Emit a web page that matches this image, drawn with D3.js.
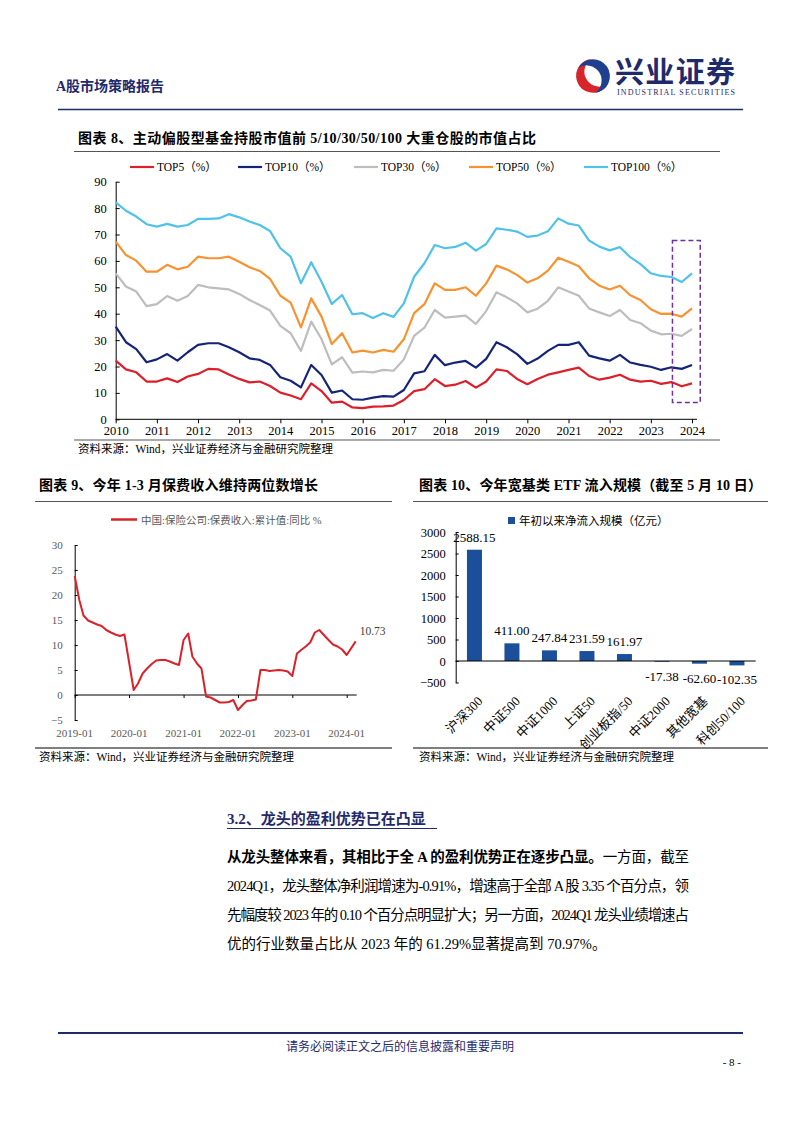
<!DOCTYPE html>
<html><head><meta charset="utf-8">
<script src="https://cdn.jsdelivr.net/npm/d3@7"></script>
<style>
body{margin:0;background:#fff}
svg{display:block}
text{font-family:"Liberation Serif","Noto Sans CJK SC",serif}
</style>
</head><body>
<svg id="c" width="802" height="1133"></svg>
<script>
// ---------- DATA ----------
const yearLabels = ['2010','2011','2012','2013','2014','2015','2016','2017','2018','2019','2020','2021','2022','2023','2024'];
const seriesNames = ['TOP5（%）','TOP10（%）','TOP30（%）','TOP50（%）','TOP100（%）'];
const top5 = [22.2,18.9,17.8,14.3,14.3,15.5,14.1,16.2,17.2,19.1,18.9,17.0,15.3,14.0,14.3,12.6,10.1,9.0,7.6,13.6,10.7,6.3,6.7,4.5,4.2,4.8,4.9,5.2,7.3,10.7,11.4,15.2,12.6,13.1,14.5,12.0,14.3,18.9,18.3,15.3,13.3,15.3,16.9,17.8,18.7,19.6,16.4,15.0,15.8,16.9,15.0,14.3,14.6,13.4,14.1,12.5,13.6];
const top10 = [35.1,29.2,26.6,21.6,22.7,24.7,22.2,25.4,28.2,28.8,28.8,27.3,25.4,23.1,22.5,20.6,15.9,14.6,12.1,20.6,16.8,10.1,10.9,7.6,7.4,8.2,8.8,8.6,11.1,17.4,18.2,24.4,20.5,21.5,22.1,19.6,22.9,29.2,27.3,24.7,21.0,23.0,25.9,28.2,28.2,29.2,24.1,23.1,22.2,24.4,21.5,20.6,19.9,18.7,19.7,19.1,20.6];
const top30 = [55.3,50.3,48.4,42.9,43.6,46.7,44.9,46.7,50.9,50.0,49.6,49.2,47.5,45.2,43.3,41.2,35.4,32.6,25.9,37.0,30.4,20.8,23.5,17.7,18.1,17.8,18.7,18.4,22.7,31.6,34.7,41.4,38.5,38.9,39.3,36.1,41.0,48.1,46.2,43.9,40.5,41.9,44.9,50.0,48.4,46.8,42.0,40.5,39.1,41.4,37.6,36.4,33.6,32.2,32.4,31.6,34.2];
const top50 = [67.3,62.2,60.1,55.9,55.9,58.5,56.8,57.8,61.6,61.0,61.0,61.6,59.7,57.6,56.2,53.2,46.8,44.2,34.8,45.8,38.9,28.5,32.6,25.3,26.0,25.3,26.3,25.6,30.3,40.2,43.6,51.5,49.0,49.0,50.0,46.8,51.5,58.2,56.8,54.7,51.8,53.4,56.3,61.2,59.7,58.0,53.4,50.6,49.2,50.6,47.0,45.2,41.7,39.9,40.0,38.9,42.0];
const top100 = [82.2,79.0,76.8,73.9,73.0,74.0,73.0,73.6,75.9,75.9,76.1,77.7,76.5,74.9,73.6,71.3,64.8,61.6,51.5,59.5,52.1,43.7,47.1,39.8,40.2,38.4,40.2,38.8,43.9,54.0,59.1,66.0,64.8,65.3,66.9,63.9,66.4,72.3,71.8,71.1,69.1,69.6,71.2,76.1,74.1,73.4,67.7,65.4,64.0,65.2,61.4,58.8,55.3,54.3,53.9,52.0,55.3];
const yTicks8 = [0,10,20,30,40,50,60,70,80,90];

const insDates = ['2019-01','2019-02','2019-03','2019-04','2019-05','2019-06','2019-07','2019-08','2019-09','2019-10','2019-11','2019-12',
 '2020-02','2020-03','2020-04','2020-05','2020-06','2020-07','2020-08','2020-09','2020-10','2020-11','2020-12',
 '2021-01','2021-02','2021-03','2021-04','2021-05','2021-06','2021-07','2021-08','2021-09','2021-10','2021-11','2021-12',
 '2022-01','2022-02','2022-03','2022-04','2022-05','2022-06','2022-07','2022-08','2022-09','2022-10','2022-11','2022-12',
 '2023-01','2023-02','2023-03','2023-04','2023-05','2023-06','2023-07','2023-08','2023-09','2023-10','2023-11','2023-12',
 '2024-01','2024-03'];
const insValues = [23.8,19.0,15.9,14.9,14.5,14.1,13.8,13.0,12.5,12.1,11.8,12.1,
 1.0,2.3,4.3,5.3,6.2,6.9,7.0,7.0,6.7,6.3,6.0,
 11.0,12.3,7.7,6.3,5.3,-0.3,-0.5,-1.0,-1.5,-1.5,-1.4,-1.0,
 -3.0,-2.0,-1.2,-1.1,-0.9,5.0,5.0,4.8,4.9,5.0,4.9,4.7,
 3.8,8.3,9.0,9.7,10.5,12.5,13.0,12.0,11.0,10.1,9.7,9.1,
 8.0,10.73];
const insTickLabels = ['2019-01','2020-01','2021-01','2022-01','2023-01','2024-01'];
const insYTicks = [-5,0,5,10,15,20,25,30];

const etfCats = ['沪深300','中证500','中证1000','上证50','创业板指/50','中证2000','其他宽基','科创50/100'];
const etfValues = [2588.15,411.00,247.84,231.59,161.97,-17.38,-62.60,-102.35];
const etfYTicks = [-500,0,500,1000,1500,2000,2500,3000];

// ---------- SETUP ----------
const svg = d3.select('#c');
svg.append('rect').attr('width',802).attr('height',1133).attr('fill','#fff');
const NAVY = '#1f2a6b';

// header
svg.append('text').attr('x',56).attr('y',91).attr('font-size',14).attr('font-weight','bold').attr('fill',NAVY).text('A股市场策略报告');
// logo
const lg = svg.append('g').attr('transform','translate(593,76)');
lg.append('circle').attr('r',17).attr('fill','#fff');
lg.append('path').attr('d','M -2,-17 A 17 17 0 1 0 15,8 A 12 12 0 1 1 -2,-17 Z').attr('fill','#d6262c');
lg.append('path').attr('d','M 2,17 A 17 17 0 1 0 -15,-8 A 11 11 0 1 1 2,17 Z').attr('fill','#1f3f8f');
lg.append('circle').attr('r',6).attr('fill','#fff');
svg.append('text').attr('x',615).attr('y',83).attr('font-size',29).attr('font-weight','bold').attr('fill',NAVY).attr('textLength',120).text('兴业证券');
svg.append('text').attr('x',617).attr('y',95).attr('font-size',8).attr('fill',NAVY).attr('textLength',118).text('INDUSTRIAL SECURITIES');
svg.append('line').attr('x1',58).attr('x2',743).attr('y1',109.5).attr('y2',109.5).attr('stroke',NAVY).attr('stroke-width',1.5);

// ---------- CHART 8 ----------
svg.append('text').attr('x',78).attr('y',143).attr('font-size',14).attr('font-weight','bold').attr('textLength',458).attr('lengthAdjust','spacing').text('图表 8、主动偏股型基金持股市值前 5/10/30/50/100 大重仓股的市值占比');
svg.append('line').attr('x1',74).attr('x2',720).attr('y1',151.5).attr('y2',151.5).attr('stroke','#555').attr('stroke-width',1.2);
svg.append('line').attr('x1',74).attr('x2',720).attr('y1',440).attr('y2',440).attr('stroke','#555').attr('stroke-width',1.2);
svg.append('text').attr('x',78).attr('y',453).attr('font-size',11.5).text('资料来源：Wind，兴业证券经济与金融研究院整理');

const x8 = d3.scaleLinear().domain([0,56]).range([115.7,692]);
const y8 = d3.scaleLinear().domain([0,90]).range([419.3,181.7]);
const colors8 = ['#dc1f2a','#152476','#bdbdbd','#f7922f','#4fc2ea'];
const data8 = [top5,top10,top30,top50,top100];

const ax8y = svg.append('g').attr('transform','translate(115.7,0)')
  .call(d3.axisLeft(y8).tickValues(yTicks8).tickSizeInner(-4).tickSizeOuter(0).tickPadding(9));
const ax8x = svg.append('g').attr('transform','translate(0,419.3)')
  .call(d3.axisBottom(x8).tickValues(d3.range(0,57,4)).tickFormat(i=>yearLabels[i/4]).tickSizeInner(4).tickSizeOuter(0).tickPadding(3));
[ax8y,ax8x].forEach(a=>{a.selectAll('text').attr('font-size',12.5).attr('fill','#000').style('font-family','"Liberation Serif",serif');
  a.selectAll('line,path').attr('stroke','#000');});
ax8x.select('.domain').attr('d','M115.7,0H697');

const line8 = d3.line().x((d,i)=>x8(i)).y(d=>y8(d));
data8.forEach((s,k)=>{
  svg.append('path').datum(s).attr('d',line8).attr('fill','none').attr('stroke',colors8[k]).attr('stroke-width',2.2).attr('stroke-linejoin','round');
});
// highlight box
svg.append('rect').attr('x',x8(54.1)).attr('y',y8(67.7)).attr('width',x8(56.8)-x8(54.1)).attr('height',y8(6.4)-y8(67.7))
  .attr('fill','none').attr('stroke','#7030a0').attr('stroke-width',1.5).attr('stroke-dasharray','5,3');

// legend 8
const legX = [118,226,342,457,572];
seriesNames.forEach((n,k)=>{
  svg.append('line').attr('x1',legX[k]+12).attr('x2',legX[k]+36).attr('y1',167).attr('y2',167).attr('stroke',colors8[k]).attr('stroke-width',2.2);
  svg.append('text').attr('x',legX[k]+39).attr('y',171).attr('font-size',11.5).text(n);
});

// ---------- CHART 9 ----------
svg.append('text').attr('x',39).attr('y',490).attr('font-size',14).attr('font-weight','bold').attr('textLength',279).attr('lengthAdjust','spacing').text('图表 9、今年 1-3 月保费收入维持两位数增长');
svg.append('line').attr('x1',35).attr('x2',392).attr('y1',501.5).attr('y2',501.5).attr('stroke','#555').attr('stroke-width',1.2);
svg.append('line').attr('x1',35).attr('x2',392).attr('y1',748).attr('y2',748).attr('stroke','#000').attr('stroke-width',1.2);
svg.append('text').attr('x',39).attr('y',761).attr('font-size',11.5).text('资料来源：Wind，兴业证券经济与金融研究院整理');

const parse = d3.timeParse('%Y-%m');
const x9 = d3.scaleTime().domain([parse('2019-01'),parse('2024-01')]).range([74.7,346.7]);
const y9 = d3.scaleLinear().domain([-5,30]).range([720,545]);
const ax9y = svg.append('g').attr('transform','translate(74.7,0)')
  .call(d3.axisLeft(y9).tickValues(insYTicks).tickSizeInner(-3).tickSizeOuter(0).tickPadding(12));
ax9y.selectAll('text').attr('font-size',11).attr('fill','#595959').style('font-family','"Liberation Serif",serif');
ax9y.selectAll('line,path').attr('stroke','#000');
const ax9x = svg.append('g').attr('transform','translate(0,'+y9(0)+')')
  .call(d3.axisBottom(x9).tickValues(insTickLabels.map(parse)).tickFormat('').tickSizeInner(3).tickSizeOuter(0));
ax9x.selectAll('line,path').attr('stroke','#000');
ax9x.select('.domain').attr('d','M74.7,0H356.7');
svg.append('g').selectAll('text').data(insTickLabels).join('text')
  .attr('x',d=>x9(parse(d))).attr('y',737).attr('text-anchor','middle').attr('font-size',11).attr('fill','#595959').text(d=>d);
const ins = insDates.map((d,i)=>({d:parse(d),v:insValues[i]}));
svg.append('path').datum(ins).attr('d',d3.line().x(d=>x9(d.d)).y(d=>y9(d.v)))
  .attr('fill','none').attr('stroke','#d9232b').attr('stroke-width',2).attr('stroke-linejoin','round');
const last = ins[ins.length-1];
svg.append('text').attr('x',x9(last.d)+4).attr('y',y9(last.v)-6).attr('font-size',11.5).attr('fill','#404040').text(last.v.toFixed(2));
svg.append('line').attr('x1',111).attr('x2',137).attr('y1',519.5).attr('y2',519.5).attr('stroke','#d9232b').attr('stroke-width',2.5);
svg.append('text').attr('x',141).attr('y',523.5).attr('font-size',10.5).attr('fill','#595959').text('中国:保险公司:保费收入:累计值:同比 %');

// ---------- CHART 10 ----------
svg.append('text').attr('x',419).attr('y',490).attr('font-size',14).attr('font-weight','bold').attr('textLength',343).attr('lengthAdjust','spacing').text('图表 10、今年宽基类 ETF 流入规模（截至 5 月 10 日）');
svg.append('line').attr('x1',413).attr('x2',768).attr('y1',501.5).attr('y2',501.5).attr('stroke','#555').attr('stroke-width',1.2);
svg.append('line').attr('x1',413).attr('x2',768).attr('y1',748).attr('y2',748).attr('stroke','#000').attr('stroke-width',1.2);
svg.append('text').attr('x',419).attr('y',761).attr('font-size',11.5).text('资料来源：Wind，兴业证券经济与金融研究院整理');

const x10 = d3.scaleBand().domain(etfCats).range([455.7,755.7]).paddingInner(0.6).paddingOuter(0.3);
const y10 = d3.scaleLinear().domain([-500,3000]).range([682.5,532]);
const BAR = '#1c4f9a';
const ax10y = svg.append('g').attr('transform','translate(455.7,0)')
  .call(d3.axisLeft(y10).tickValues(etfYTicks).tickFormat(d3.format('d')).tickSizeInner(-3).tickSizeOuter(0).tickPadding(10));
ax10y.selectAll('text').attr('font-size',12.5).attr('fill','#000').style('font-family','"Liberation Serif",serif');
ax10y.selectAll('line,path').attr('stroke','#000');
svg.append('g').selectAll('rect').data(etfCats).join('rect')
  .attr('x',d=>x10(d)).attr('width',x10.bandwidth())
  .attr('y',(d,i)=>y10(Math.max(0,etfValues[i]))).attr('height',(d,i)=>Math.abs(y10(etfValues[i])-y10(0)))
  .attr('fill',BAR);
svg.append('line').attr('x1',455.7).attr('x2',755.7).attr('y1',y10(0)).attr('y2',y10(0)).attr('stroke','#000').attr('stroke-width',1);
svg.append('g').selectAll('text').data(etfCats).join('text')
  .attr('x',d=>x10(d)+x10.bandwidth()/2)
  .attr('y',(d,i)=>etfValues[i]>=0 ? y10(etfValues[i])-8 : y10(etfValues[i])+19)
  .attr('text-anchor','middle').attr('font-size',13).attr('fill','#000').style('font-family','"Liberation Serif",serif')
  .text((d,i)=>etfValues[i].toFixed(2));
svg.append('g').selectAll('text').data(etfCats).join('text')
  .attr('transform',d=>`translate(${x10(d)+x10.bandwidth()/2+9},702) rotate(-45)`)
  .attr('text-anchor','end').attr('font-size',13).attr('fill','#000').text(d=>d);
svg.append('rect').attr('x',508).attr('y',517).attr('width',7).attr('height',7).attr('fill',BAR);
svg.append('text').attr('x',519).attr('y',524.5).attr('font-size',11.5).attr('fill','#000').text('年初以来净流入规模（亿元）');

// ---------- TEXT SECTION ----------
svg.append('text').attr('x',227).attr('y',824).attr('font-size',15).attr('font-weight','bold').attr('fill',NAVY).text('3.2、龙头的盈利优势已在凸显');
svg.append('line').attr('x1',227).attr('x2',437).attr('y1',828.5).attr('y2',828.5).attr('stroke',NAVY).attr('stroke-width',1);
const lines = [
  [['从龙头整体来看，其相比于全 A 的盈利优势正在逐步凸显。','bold'],['一方面，截至','normal']],
  [['2024Q1，龙头整体净利润增速为-0.91%，增速高于全部 A 股 3.35 个百分点，领','normal']],
  [['先幅度较 2023 年的 0.10 个百分点明显扩大；另一方面，2024Q1 龙头业绩增速占','normal']],
  [['优的行业数量占比从 2023 年的 61.29%显著提高到 70.97%。','normal']]
];
const lineY = [862,891,920,949];
lines.forEach((segs,i)=>{
  const t = svg.append('text').attr('x',227).attr('y',lineY[i]).attr('font-size',14.5).attr('fill','#000');
  if(i<3) t.attr('textLength',462).attr('lengthAdjust','spacing');
  segs.forEach(s=>t.append('tspan').attr('font-weight',s[1]).text(s[0]));
});

// ---------- FOOTER ----------
svg.append('line').attr('x1',58).attr('x2',743).attr('y1',1033).attr('y2',1033).attr('stroke',NAVY).attr('stroke-width',2);
svg.append('text').attr('x',400).attr('y',1051).attr('text-anchor','middle').attr('font-size',12).attr('fill',NAVY).text('请务必阅读正文之后的信息披露和重要声明');
svg.append('text').attr('x',741).attr('y',1066).attr('text-anchor','end').attr('font-size',11).attr('fill','#000').text('- 8 -');
</script>
</body></html>
